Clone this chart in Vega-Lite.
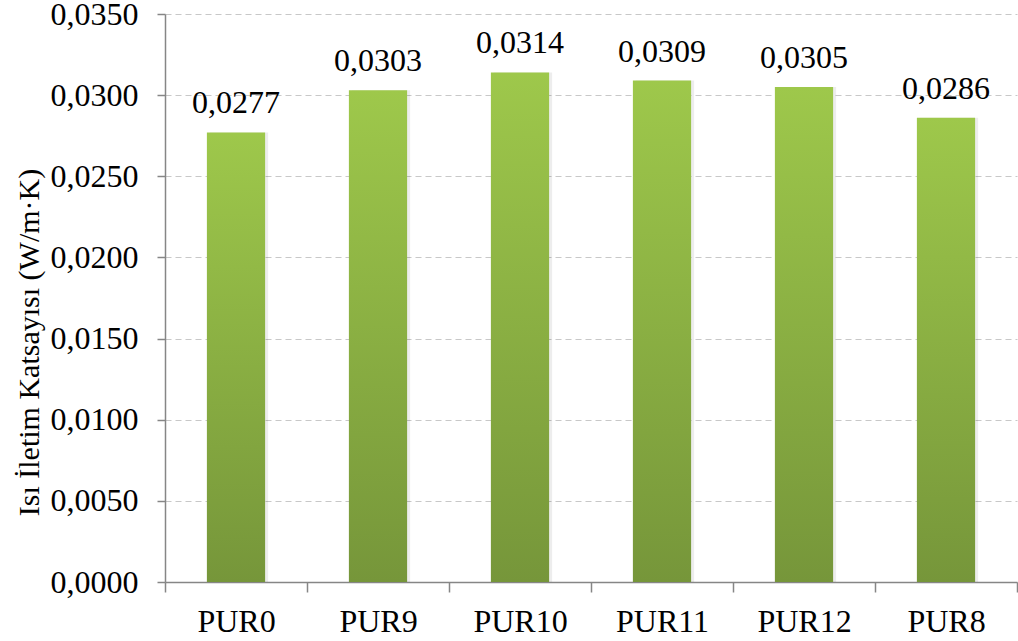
{
  "$schema": "https://vega.github.io/schema/vega-lite/v6.json",
  "width": 852,
  "height": 568,
  "autosize": {"type": "none"},
  "padding": {"left": 165, "top": 14, "right": 1, "bottom": 59},
  "background": "white",
  "config": {
    "locale": {
      "number": {"decimal": ",", "thousands": ".", "grouping": [3], "currency": ["", " €"]}
    },
    "font": "Times New Roman",
    "view": {"stroke": null}
  },
  "data": {
    "values": [
      {"numune": "PUR0", "k": 0.0277},
      {"numune": "PUR9", "k": 0.0303},
      {"numune": "PUR10", "k": 0.0314},
      {"numune": "PUR11", "k": 0.0309},
      {"numune": "PUR12", "k": 0.0305},
      {"numune": "PUR8", "k": 0.0286}
    ]
  },
  "encoding": {
    "x": {
      "field": "numune",
      "type": "nominal",
      "sort": null,
      "scale": {"paddingInner": 0, "paddingOuter": 0},
      "axis": {
        "title": null,
        "labelAngle": 0,
        "labelFont": "Times New Roman",
        "labelFontSize": 32,
        "labelColor": "#000000",
        "labelPadding": 14,
        "labelBaseline": "top",
        "tickBand": "extent",
        "tickSize": 10,
        "tickColor": "#868686",
        "tickWidth": 1.5,
        "domainColor": "#868686",
        "domainWidth": 1.5,
        "grid": false
      }
    },
    "y": {
      "field": "k",
      "type": "quantitative",
      "scale": {"domain": [0, 0.035], "nice": false},
      "axis": {
        "title": "Isı İletim Katsayısı (W/m·K)",
        "titleFont": "Times New Roman",
        "titleFontSize": 30,
        "titleFontWeight": "normal",
        "titleColor": "#000000",
        "titleAngle": -90,
        "titleAlign": "center",
        "titleBaseline": "alphabetic",
        "titleX": -127,
        "titleY": 328,
        "values": [0, 0.005, 0.01, 0.015, 0.02, 0.025, 0.03, 0.035],
        "format": ".4f",
        "labelFont": "Times New Roman",
        "labelFontSize": 32,
        "labelColor": "#000000",
        "labelPadding": 19,
        "tickSize": 8,
        "tickColor": "#868686",
        "tickWidth": 1.5,
        "domainColor": "#868686",
        "domainWidth": 1.5,
        "grid": true,
        "gridColor": "#c8c8c8",
        "gridDash": [6, 4],
        "gridWidth": 1.2
      }
    }
  },
  "layer": [
    {
      "mark": {"type": "bar", "width": {"band": 0.41}, "color": "#000000", "opacity": 0.07, "xOffset": 3},
      "encoding": {}
    },
    {
      "mark": {
        "type": "bar",
        "width": {"band": 0.41},
        "color": {
          "gradient": "linear",
          "x1": 0, "y1": 0, "x2": 0, "y2": 1,
          "stops": [
            {"offset": 0, "color": "#9ec84b"},
            {"offset": 1, "color": "#76963a"}
          ]
        }
      },
      "encoding": {}
    },
    {
      "mark": {
        "type": "text",
        "baseline": "alphabetic",
        "dy": -19,
        "font": "Times New Roman",
        "fontSize": 32,
        "color": "#000000"
      },
      "encoding": {
        "text": {"field": "k", "type": "quantitative", "format": ".4f"}
      }
    }
  ]
}
